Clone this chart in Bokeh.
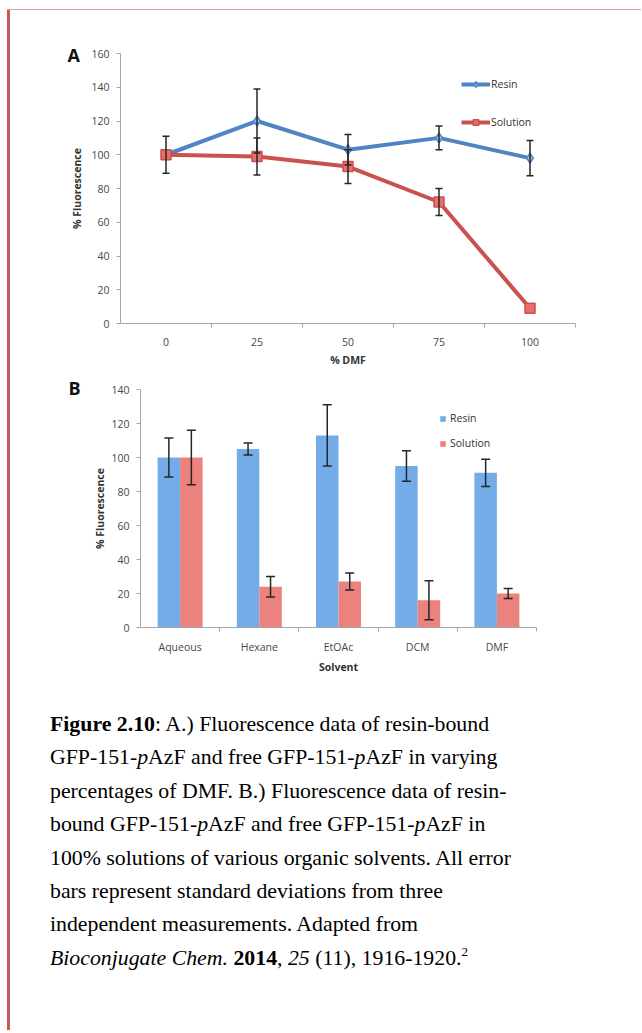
from bokeh.plotting import figure
from bokeh.models import (ColumnDataSource, Whisker, TeeHead, Legend, LegendItem,
                          FixedTicker, Range1d, Div, Title)
from bokeh.layouts import column, row
from bokeh.transform import dodge
from bokeh.embed import file_html
from bokeh.resources import INLINE

# ---------------- data ----------------
nan = float("nan")
dmf_pct = [0, 25, 50, 75, 100]
resin_a = [100, 120, 103, 110, 98]
resin_a_err = [11, 19, 9, 7, 10.5]
solution_a = [100, 99, 93, 72, 9]
solution_a_err = [nan, 11, 10, 8, nan]

solvents = ["Aqueous", "Hexane", "EtOAc", "DCM", "DMF"]
resin_b = [100, 105, 113, 95, 91]
resin_b_err = [11.5, 3.5, 18, 9, 8]
solution_b = [100, 24, 27, 16, 20]
solution_b_err = [16, 6, 5, 11.5, 3]

y_ticks_a = [0, 20, 40, 60, 80, 100, 120, 140, 160]
y_ticks_b = [0, 20, 40, 60, 80, 100, 120, 140]

# ---------------- styles ----------------
FONT = "Open Sans"
TICK_COLOR = "#474747"
AXIS_COLOR = "#a6a6a6"
BLUE_LINE = "#5184c2"
RED_LINE = "#c9524f"
BLUE_BAR = "#74abe9"
RED_BAR = "#ec827d"
ERR_COLOR = "#262626"


def base_style(p):
    p.xgrid.visible = False
    p.ygrid.visible = False
    p.outline_line_color = None
    p.background_fill_color = "white"
    p.border_fill_color = "white"
    for ax in (p.xaxis[0], p.yaxis[0]):
        ax.axis_line_color = AXIS_COLOR
        ax.major_tick_line_color = AXIS_COLOR
        ax.minor_tick_line_color = AXIS_COLOR
        ax.major_label_text_font = FONT
        ax.major_label_text_font_size = "10.5px"
        ax.major_label_text_color = TICK_COLOR
        ax.axis_label_text_font = FONT
        ax.axis_label_text_font_size = "10.5px"
        ax.axis_label_text_font_style = "bold"
        ax.axis_label_text_color = "#333333"
    p.yaxis.major_tick_in = 0
    p.yaxis.major_tick_out = 4
    p.yaxis.minor_tick_in = 0
    p.yaxis.minor_tick_out = 0
    p.xaxis.major_tick_in = 0
    p.xaxis.major_tick_out = 0
    p.xaxis.minor_tick_in = 0
    p.xaxis.minor_tick_out = 4


def whisker(src, base, lo, hi, size):
    return Whisker(base=base, lower=lo, upper=hi, source=src,
                   line_color=ERR_COLOR, line_width=1.5, level="overlay",
                   upper_head=TeeHead(size=size, line_color=ERR_COLOR, line_width=1.5),
                   lower_head=TeeHead(size=size, line_color=ERR_COLOR, line_width=1.5))


def panel_title(text, offset, standoff):
    return Title(text=text, align="left", offset=offset, standoff=standoff,
                 vertical_align="bottom", text_font=FONT, text_font_size="18px",
                 text_font_style="bold", text_color="#111111")


# ---------------- chart A ----------------
src_a = ColumnDataSource(dict(
    x=dmf_pct,
    resin=resin_a,
    resin_lo=[v - e for v, e in zip(resin_a, resin_a_err)],
    resin_hi=[v + e for v, e in zip(resin_a, resin_a_err)],
    sol=solution_a,
    sol_lo=[v - e for v, e in zip(solution_a, solution_a_err)],
    sol_hi=[v + e for v, e in zip(solution_a, solution_a_err)],
))

half_a = (dmf_pct[1] - dmf_pct[0]) / 2
pa = figure(width=620, height=360, min_border_left=110, min_border_right=55,
            min_border_top=43, min_border_bottom=47,
            x_range=Range1d(dmf_pct[0] - half_a, dmf_pct[-1] + half_a),
            y_range=Range1d(0, 160), title=None,
            output_backend="svg", toolbar_location=None)
base_style(pa)
pa.xaxis.ticker = FixedTicker(ticks=dmf_pct,
                              minor_ticks=[v + half_a for v in dmf_pct])
pa.yaxis.ticker = FixedTicker(ticks=y_ticks_a, minor_ticks=[])
pa.xaxis.axis_label = "% DMF"
pa.yaxis.axis_label = "% Fluorescence"
pa.xaxis.major_label_standoff = 10
pa.xaxis.axis_label_standoff = 4
pa.yaxis.major_label_standoff = 7
pa.yaxis.axis_label_standoff = 4

l1 = pa.line("x", "resin", source=src_a, line_color=BLUE_LINE, line_width=4)
s1 = pa.scatter("x", "resin", source=src_a, marker="diamond", size=10,
                fill_color="#9cc2e8", line_color=BLUE_LINE, line_width=1.5)
l2 = pa.line("x", "sol", source=src_a, line_color=RED_LINE, line_width=4)
s2 = pa.scatter("x", "sol", source=src_a, marker="square", size=10,
                fill_color="#e8706c", line_color=RED_LINE, line_width=1.5)
pa.add_layout(whisker(src_a, "x", "resin_lo", "resin_hi", 7))
pa.add_layout(whisker(src_a, "x", "sol_lo", "sol_hi", 7))

leg_a = Legend(items=[LegendItem(label="Resin", renderers=[l1, s1]),
                      LegendItem(label="Solution", renderers=[l2, s2])],
               location=(341, 194), glyph_width=29, glyph_height=14,
               label_height=14, spacing=24, padding=0, margin=0,
               label_standoff=1, border_line_color=None,
               background_fill_alpha=0, label_text_font=FONT,
               label_text_font_size="10.5px", label_text_color="#333333")
pa.add_layout(leg_a)
pa.add_layout(panel_title("A", -53, -26), "above")

# ---------------- chart B ----------------
idx = list(range(len(solvents)))
src_b = ColumnDataSource(dict(
    idx=idx,
    resin=resin_b,
    resin_lo=[v - e for v, e in zip(resin_b, resin_b_err)],
    resin_hi=[v + e for v, e in zip(resin_b, resin_b_err)],
    sol=solution_b,
    sol_lo=[v - e for v, e in zip(solution_b, solution_b_err)],
    sol_hi=[v + e for v, e in zip(solution_b, solution_b_err)],
))

pb = figure(width=620, height=310, min_border_left=130, min_border_right=94,
            min_border_top=19, min_border_bottom=53,
            x_range=Range1d(-0.5, len(solvents) - 0.5), y_range=Range1d(0, 140),
            title=None, output_backend="svg", toolbar_location=None)
base_style(pb)
pb.xaxis.ticker = FixedTicker(ticks=idx, minor_ticks=[i + 0.5 for i in idx])
pb.xaxis.major_label_overrides = {i: s for i, s in zip(idx, solvents)}
pb.yaxis.ticker = FixedTicker(ticks=y_ticks_b, minor_ticks=[])
pb.xaxis.axis_label = "Solvent"
pb.yaxis.axis_label = "% Fluorescence"
pb.xaxis.major_label_standoff = 8
pb.xaxis.axis_label_standoff = 3
pb.yaxis.major_label_standoff = 7
pb.yaxis.axis_label_standoff = 1

bw = 0.284
off = bw / 2
r1 = pb.vbar(x=dodge("idx", -off, range=pb.x_range), top="resin", width=bw,
             source=src_b, fill_color=BLUE_BAR, line_color=None)
r2 = pb.vbar(x=dodge("idx", off, range=pb.x_range), top="sol", width=bw,
             source=src_b, fill_color=RED_BAR, line_color=None)
pb.add_layout(whisker(src_b, dodge("idx", -off, range=pb.x_range), "resin_lo", "resin_hi", 9))
pb.add_layout(whisker(src_b, dodge("idx", off, range=pb.x_range), "sol_lo", "sol_hi", 9))

leg_b = Legend(items=[LegendItem(label="Resin", renderers=[r1]),
                      LegendItem(label="Solution", renderers=[r2])],
               location=(299, 177), glyph_width=7, glyph_height=7,
               label_height=14, spacing=11, padding=0, margin=0,
               label_standoff=4, border_line_color=None,
               background_fill_alpha=0, label_text_font=FONT,
               label_text_font_size="10.5px", label_text_color="#333333")
pb.add_layout(leg_b)
pb.add_layout(panel_title("B", -72, -20), "above")

# ---------------- caption ----------------
SERIF = "'Liberation Serif','Times New Roman',serif"


def it(s):
    return "<span style=\"font-family:%s;font-style:italic\">%s</span>" % (SERIF, s)


def bd(s):
    return "<span style=\"font-family:%s;font-weight:bold\">%s</span>" % (SERIF, s)


caption_lines = [
    bd("Figure 2.10") + ": A.) Fluorescence data of resin-bound",
    "GFP-151-" + it("p") + "AzF and free GFP-151-" + it("p") + "AzF in varying",
    "percentages of DMF. B.) Fluorescence data of resin-",
    "bound GFP-151-" + it("p") + "AzF and free GFP-151-" + it("p") + "AzF in",
    "100% solutions of various organic solvents. All error",
    "bars represent standard deviations from three",
    "independent measurements. Adapted from",
    it("Bioconjugate Chem.") + " " + bd("2014") + ", " + it("25") + " (11), 1916-1920."
    "<span style=\"font-size:13px;line-height:0;vertical-align:9px\">2</span>",
]
caption_html = ("<div style=\"font-family:%s;" % SERIF
                + "font-size:21.8px;line-height:33.4px;color:#000;white-space:nowrap;"
                "padding:28px 0 0 40px;margin:0;\">"
                + "<br>".join(caption_lines) + "</div>")
caption = Div(text=caption_html, width=620, height=345, margin=0)

top_line = Div(text="", width=634, height=1, margin=(9, 0, 0, 7),
               styles={"background-color": "#dca6a6"})
red_bar = Div(text="", width=3, height=1020, margin=(0, 0, 0, 7),
              styles={"background-color": "#c65a58"})

layout = column(top_line,
                row(red_bar, column(row(pa), row(pb), caption)))

open("out.html", "w").write(file_html(layout, INLINE))
